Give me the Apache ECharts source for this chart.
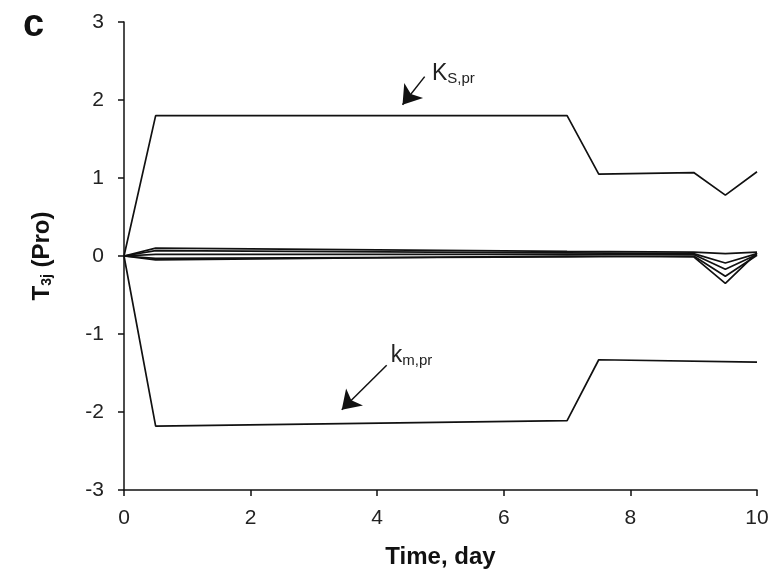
<!DOCTYPE html>
<html lang="en">
<head>
    <meta charset="UTF-8">
    <title>T3j (Pro)</title>
    <script src="https://cdn.jsdelivr.net/npm/echarts/dist/echarts.min.js"></script>
    <style>
        body { margin: 0; background: #fff; }
        #chart { width: 774px; height: 578px; }
    </style>
</head>
<body>
    <div id="chart"></div>
    <script>
        // time points (day) and sensitivity curves
        const ksPr = [[0, 0], [0.5, 1.8], [7, 1.8], [7.5, 1.05], [9, 1.07], [9.5, 0.78], [10, 1.08]];
        const kmPr = [[0, 0], [0.5, -2.18], [7, -2.11], [7.5, -1.33], [10, -1.36]];
        const small1 = [[0, 0], [0.5, 0.1], [7, 0.06], [9, 0.05], [9.5, 0.03], [10, 0.05]];
        const small2 = [[0, 0], [0.5, 0.07], [7, 0.04], [9, 0.03], [9.5, -0.09], [10, 0.03]];
        const small3 = [[0, 0], [0.5, 0.02], [7, 0.02], [9, 0.02], [9.5, -0.17], [10, 0.02]];
        const small4 = [[0, 0], [0.5, -0.03], [7, -0.01], [9, 0.0], [9.5, -0.26], [10, 0.01]];
        const small5 = [[0, 0], [0.5, -0.05], [7, 0.0], [9, -0.01], [9.5, -0.35], [10, 0.04]];

        // annotation arrows, in data units
        const ksArrow = [[4.75, 2.3], [4.4, 1.94]];
        const kmArrow = [[4.15, -1.40], [3.44, -1.97]];

        const chart = echarts.init(document.getElementById('chart'));
        const font = 'Liberation Sans, Arial, sans-serif';

        function line(data) {
            return {
                type: 'line', data: data, symbol: 'none',
                lineStyle: { color: '#111', width: 1.7 },
                silent: true
            };
        }

        const series = [small1, small2, small3, small4, small5, ksPr, kmPr].map(line);

        series.push({
            type: 'line', data: [], symbol: 'none',
            markLine: {
                silent: true,
                symbol: ['none', 'arrow'],
                symbolSize: 18,
                lineStyle: { color: '#111', width: 1.5, type: 'solid' },
                label: { show: false },
                data: [
                    [{ coord: ksArrow[0] }, { coord: ksArrow[1] }],
                    [{ coord: kmArrow[0] }, { coord: kmArrow[1] }]
                ]
            },
            markPoint: {
                silent: true,
                symbolSize: 0,
                data: [
                    {
                        coord: [4.85, 2.34],
                        label: {
                            show: true, position: 'right', offset: [-4, 0],
                            formatter: '{b|K}{s|S,pr}',
                            rich: {
                                b: { fontSize: 23, fontFamily: font, color: '#222' },
                                s: { fontSize: 15, fontFamily: font, color: '#222', padding: [10, 0, 0, 0] }
                            }
                        }
                    },
                    {
                        coord: [4.2, -1.28],
                        label: {
                            show: true, position: 'right', offset: [-4, 0],
                            formatter: '{b|k}{s|m,pr}',
                            rich: {
                                b: { fontSize: 23, fontFamily: font, color: '#222' },
                                s: { fontSize: 15, fontFamily: font, color: '#222', padding: [10, 0, 0, 0] }
                            }
                        }
                    }
                ]
            }
        });

        chart.setOption({
            animation: false,
            backgroundColor: '#fff',
            title: {
                text: 'c', left: 18, top: 2,
                textStyle: { fontSize: 38, fontWeight: 'bold', fontFamily: font, color: '#111' }
            },
            grid: { left: 124, right: 17, top: 22, bottom: 88 },
            xAxis: {
                type: 'value', min: 0, max: 10, interval: 2,
                name: 'Time, day', nameLocation: 'middle', nameGap: 55,
                nameTextStyle: { fontSize: 24, fontWeight: 'bold', fontFamily: font, color: '#111' },
                axisLine: { onZero: false, lineStyle: { color: '#111', width: 1.5 } },
                axisTick: { length: 6, lineStyle: { color: '#111', width: 1.5 } },
                axisLabel: { fontSize: 21, fontFamily: font, color: '#222', margin: 18 },
                splitLine: { show: false }
            },
            yAxis: {
                type: 'value', min: -3, max: 3, interval: 1,
                name: '{t|T}{s|3j}{t| (Pro)}', nameLocation: 'middle', nameGap: 70,
                nameTextStyle: {
                    rich: {
                        t: { fontSize: 24, fontWeight: 'bold', fontFamily: font, color: '#111' },
                        s: { fontSize: 14, fontWeight: 'bold', fontFamily: font, color: '#111', padding: [10, 0, 0, 0] }
                    }
                },
                axisLine: { onZero: false, lineStyle: { color: '#111', width: 1.5 } },
                axisTick: { length: 6, lineStyle: { color: '#111', width: 1.5 } },
                axisLabel: { fontSize: 21, fontFamily: font, color: '#222', margin: 20 },
                splitLine: { show: false }
            },
            series: series
        });
    </script>
</body>
</html>
